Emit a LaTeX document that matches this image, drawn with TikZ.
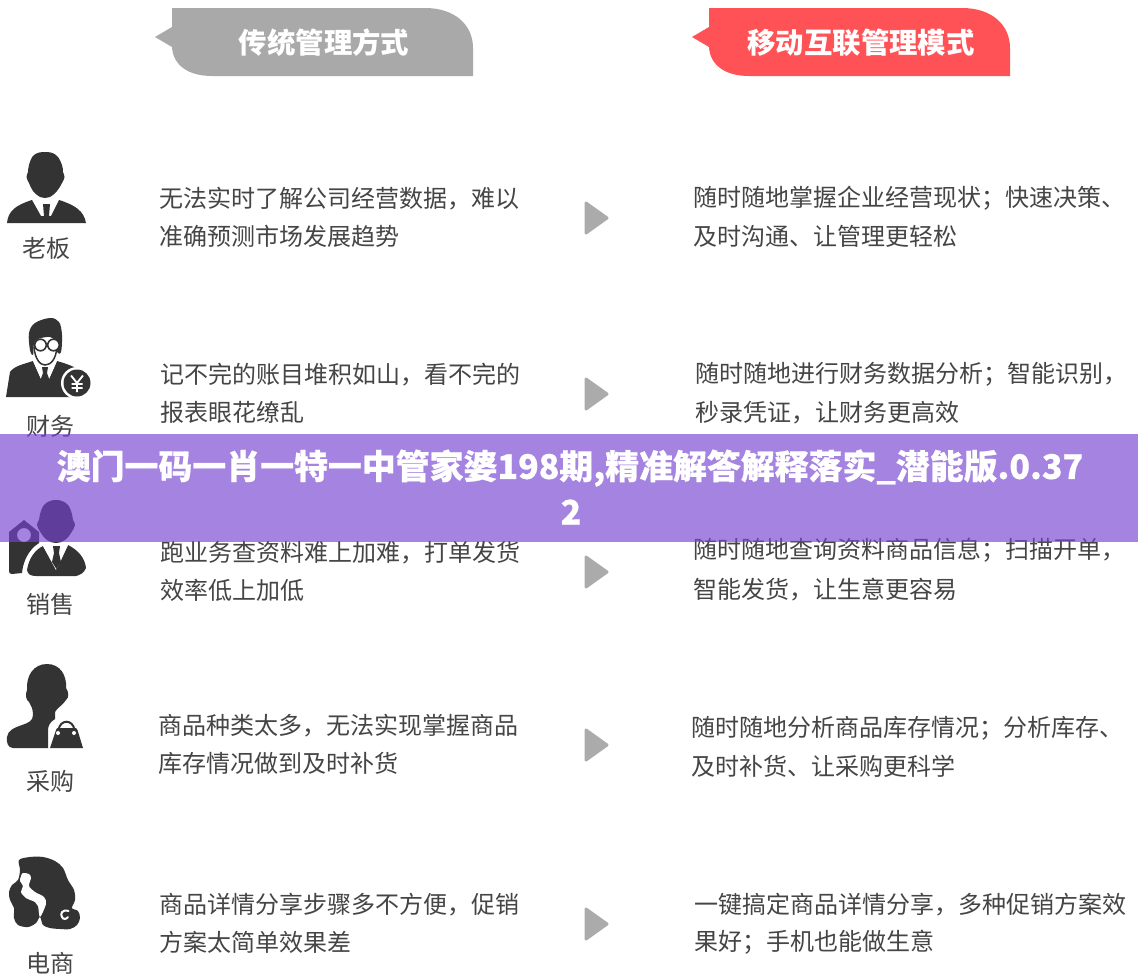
\documentclass[tikz,border=0pt]{standalone}
\usepackage{fontspec}
\newfontfamily\cjk{Noto Sans CJK SC}
\newfontfamily\cjkheavy{Noto Sans CJK SC}[BoldFeatures={FakeBold=0.5}]
\definecolor{ink}{HTML}{333333}
\definecolor{txt}{HTML}{454545}
\definecolor{hgray}{HTML}{A9A9A9}
\definecolor{hred}{HTML}{FF5256}
\definecolor{arrowgray}{HTML}{ABABAB}
\definecolor{band}{RGB}{119,67,208}
\tikzset{
  body/.style={font=\cjk\fontsize{24}{24}\selectfont, text=txt, anchor=west, inner sep=0pt, xshift=-0.3pt, yshift=-0.5pt},
  role/.style={font=\cjk\fontsize{24}{24}\selectfont, text=txt, anchor=center, inner sep=0pt},
  head/.style={font=\cjk\bfseries\fontsize{28.4}{28.4}\selectfont, text=white, anchor=center, inner sep=0pt},
  bandtext/.style={font=\cjkheavy\bfseries\fontsize{33.9}{33.9}\selectfont, text=white, anchor=center, inner sep=0pt},
  icon/.style={fill=ink, draw=none},
  hole/.style={fill=white, draw=none},
  nextarrow/.style={fill=arrowgray, draw=arrowgray, line width=3pt, line join=round}
}
\begin{document}
\begin{tikzpicture}[x=1pt,y=-1pt]
\useasboundingbox (0,0) rectangle (1138,977);
\fill[white] (0,0) rectangle (1138,977);

% headers
\fill[hgray] (172,8) -- (425,8) .. controls (455,8) and (473,25) .. (473,48) -- (473,76) -- (212,76)
  .. controls (188,76) and (173,65) .. (172,47) -- (155,37) -- (172,27) -- cycle;
\node[head] (h1) at (324,43) {传统管理方式};
\fill[hred] (709,8) -- (962,8) .. controls (992,8) and (1010,25) .. (1010,48) -- (1010,76) -- (749,76)
  .. controls (725,76) and (710,65) .. (709,47) -- (692,37) -- (709,27) -- cycle;
\node[head] (h2) at (861,43) {移动互联管理模式};

% arrows
\foreach \n/\y in {a/218,b/394,c/572,d/745,e/924}{
  \path[nextarrow] (586,{\y-15}) -- (607,\y) -- (586,{\y+15}) -- cycle;
}

% boss
\fill[icon] plot[smooth cycle,tension=.7] coordinates {(45,152) (56,155) (62,165) (63,172) (64.5,177) (62,183) (57,191) (50,197) (45,198) (40,197) (33,191) (29,183) (26.5,177) (28,172) (29,165) (34,155)};
\fill[icon] (7,223) .. controls (8,211) and (16,205) .. (32,200) -- (41,216) -- (44,216) -- (43,204) -- (50,204) -- (49,216) -- (51,216) -- (59,200)
  .. controls (75,205) and (84,211) .. (86,223) -- cycle;
\node[role] (r1) at (47,248) {老板};

% finance
\fill[icon] plot[smooth cycle,tension=.6] coordinates {(50,318) (59,322) (62,335) (61,352) (57,352) (56,342) (50,337) (38,339) (34,344) (33,355) (30,350) (29,333) (35,323)};
\draw[ink,line width=1.5pt] (34,347) .. controls (35,359) and (40,365) .. (45,365) .. controls (51,365) and (56,359) .. (57,347);
\draw[ink,line width=1.6pt,fill=white] (40.5,345) circle[radius=5.8];
\draw[ink,line width=1.6pt,fill=white] (53.5,345) circle[radius=5.8];
\fill[icon] (6,397) -- (10,372) .. controls (14,366) and (24,364) .. (33,361) -- (45,388) -- (57,361)
  .. controls (64,363) and (70,365) .. (76,368) -- (74,397) -- cycle;
\fill[white] (33,361) -- (45,388) -- (57,361) -- (50,366) -- (40,366) -- cycle;
\fill[icon] (42,367) -- (48,367) -- (47,373) -- (51,384) -- (45,389) -- (39,384) -- (43,373) -- cycle;
\fill[white] (77,383) circle[radius=16];
\fill[icon] (77,383) circle[radius=13.5];
\draw[white,line width=1.9pt] (71,375.5) -- (77,383) -- (83,375.5) (77,383) -- (77,392) (71.5,384) -- (82.5,384) (71.5,388) -- (82.5,388);
\node[role] (r2) at (50,426) {财务};

% sales
\fill[icon] plot[smooth cycle,tension=.7] coordinates {(56,500) (67,504) (72,514) (73,520) (75,525) (71,533) (65,540) (56,543) (47,540) (41,533) (37,525) (39,520) (40,514) (45,504)};
\fill[icon,even odd rule] (24,520) -- (39,532) -- (39,543) .. controls (28,550) and (23,562) .. (22,573) -- (12,574) .. controls (10,574) and (9,573) .. (9,571) -- (9,532) -- cycle
  (24,535) circle[radius=7];
\fill[icon] (27,570) .. controls (29,558) and (35,550) .. (43,546) -- (55,567) -- (58,567) -- (68,545) .. controls (78,550) and (85,558) .. (86,568)
  .. controls (84,573) and (80,575) .. (76,576) -- (36,576) .. controls (30,576) and (28,574) .. (27,570) -- cycle;
\fill[white] (43,546) -- (56,570) -- (68,545) -- (62,543) -- (50,543) -- cycle;
\fill[icon] (53,546) -- (60,546) -- (59,553) -- (61,562) -- (56.5,569) -- (52,562) -- (54,553) -- cycle;
\node[role] (r3) at (50,604) {销售};

% purchasing
\fill[icon] (48,748) -- (13,748) .. controls (8,748) and (6,742) .. (7,737) .. controls (8,730) and (14,728) .. (22,725)
  .. controls (28,723) and (33,721) .. (33,715) .. controls (33,708) and (31,706) .. (29,702)
  .. controls (26,700) and (25,695) .. (27,690) .. controls (26,675) and (34,664) .. (47,664)
  .. controls (60,664) and (67,675) .. (66,688) .. controls (69,692) and (69,698) .. (66,700)
  .. controls (63,705) and (57,708) .. (55,712) -- (55,719) .. controls (50,722) and (48,726) .. (48,730) -- cycle;
\fill[icon] (50,748) -- (56,730) .. controls (56.5,728.5) and (57,728) .. (58,728) -- (75,728) .. controls (76,728) and (77,728.5) .. (77.5,730) -- (83,748) -- cycle;
\draw[ink,line width=2pt] (58.5,730) .. controls (60,719) and (73,719) .. (74.5,730);
\fill[white] (58,733) circle[radius=2] (74,733) circle[radius=2];
\node[role] (r4) at (50,781) {采购};

% e-commerce
\fill[icon] plot[smooth cycle,tension=.55] coordinates {(19,860) (30,857) (43,857) (55,861) (63,868) (68,880) (74,890) (75,900) (72,908) (78,911) (80,918) (77,925) (70,929) (60,929) (50,928) (43,925) (40,917) (36,923) (28,927) (18,925) (14,918) (14,908) (10,900) (9,892) (12,885) (18,880) (20,870)};
\fill[white] plot[smooth cycle,tension=.5] coordinates {(23,873) (29,874) (31,878) (29,886) (35,892) (44,897) (46,904) (40,917) (38,906) (35,902) (26,898) (21,892) (23,886) (20,881) (21,876)};
\draw[white,line width=2pt,line cap=round] (68.5,911) .. controls (62,909) and (60,914) .. (62,917) .. controls (63,920) and (67,919) .. (68,917);
\node[role] (r5) at (50,963) {电商};

% body text
\node[body] (l1a) at (160,198) {无法实时了解公司经营数据，难以};
\node[body] (l1b) at (160,236) {准确预测市场发展趋势};
\node[body] (m1a) at (694,198) {随时随地掌握企业经营现状；快速决策、};
\node[body] (m1b) at (694,236) {及时沟通、让管理更轻松};
\node[body] (l2a) at (161,374) {记不完的账目堆积如山，看不完的};
\node[body] (l2b) at (161,412) {报表眼花缭乱};
\node[body] (m2a) at (696,374) {随时随地进行财务数据分析；智能识别，};
\node[body] (m2b) at (696,412) {秒录凭证，让财务更高效};
\node[body] (l3a) at (161,552) {跑业务查资料难上加难，打单发货};
\node[body] (l3b) at (161,590) {效率低上加低};
\node[body] (m3a) at (694,550) {随时随地查询资料商品信息；扫描开单，};
\node[body] (m3b) at (694,589) {智能发货，让生意更容易};
\node[body] (l4a) at (159,725) {商品种类太多，无法实现掌握商品};
\node[body] (l4b) at (159,763) {库存情况做到及时补货};
\node[body] (m4a) at (692,728) {随时随地分析商品库存情况；分析库存、};
\node[body] (m4b) at (692,766) {及时补货、让采购更科学};
\node[body] (l5a) at (160,904) {商品详情分享步骤多不方便，促销};
\node[body] (l5b) at (160,942) {方案太简单效果差};
\node[body] (m5a) at (695,904) {一键搞定商品详情分享，多种促销方案效};
\node[body] (m5b) at (695,942) {果好；手机也能做生意};

% banner
\fill[band,fill opacity=.66] (0,434) rectangle (1138,542);
\node[bandtext] (b1) at (570,468) {澳门一码一肖一特一中管家婆198期,精准解答解释落实\_潜能版.0.37};
\node[bandtext] (b2) at (571,512) {2};
\end{tikzpicture}
\end{document}
